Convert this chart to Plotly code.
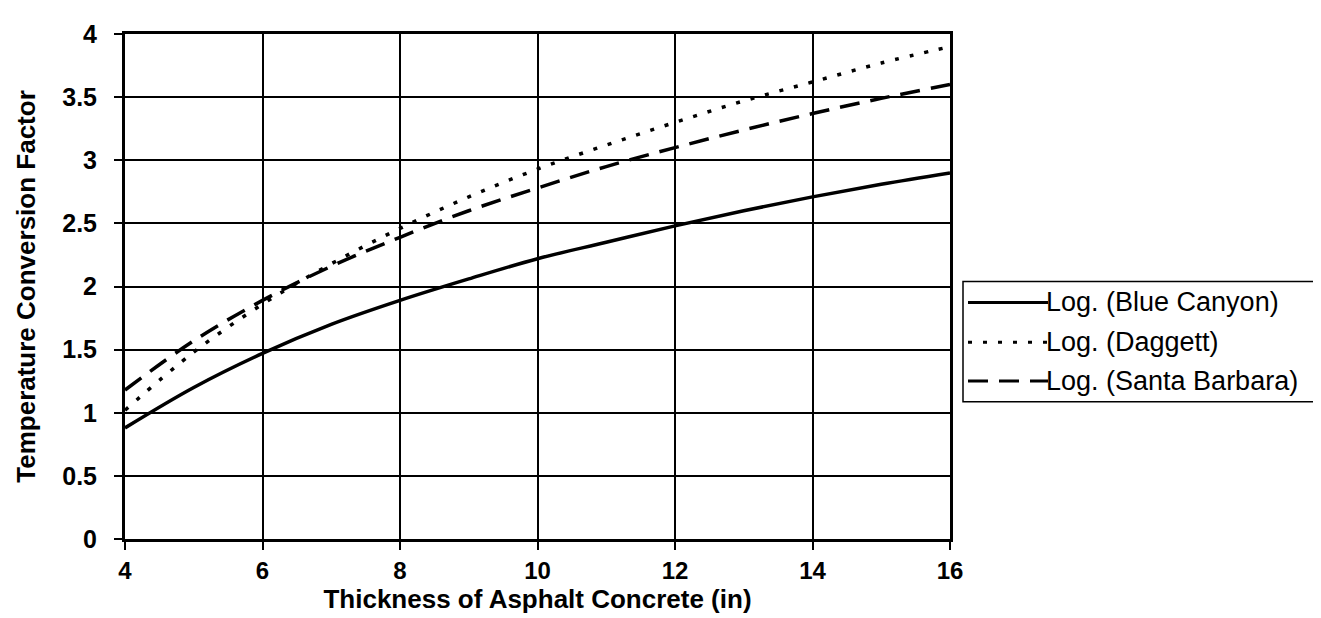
import plotly.graph_objects as go

# thickness of asphalt concrete (in)
thickness = [4, 5, 6, 7, 8, 9, 10, 11, 12, 13, 14, 15, 16]

# values
blue_canyon = [0.88, 1.20, 1.47, 1.70, 1.89, 2.06, 2.22, 2.35, 2.48, 2.60, 2.71, 2.81, 2.90]
daggett = [1.02, 1.48, 1.86, 2.18, 2.46, 2.71, 2.93, 3.12, 3.30, 3.47, 3.62, 3.77, 3.90]
santa_barbara = [1.18, 1.57, 1.89, 2.16, 2.39, 2.60, 2.78, 2.95, 3.10, 3.24, 3.37, 3.49, 3.60]

series_names = ["Log. (Blue Canyon)", "Log. (Daggett)", "Log. (Santa Barbara)"]
dash_styles = ["solid", "4px,11px", "20px,11px"]

x_ticks = [4, 6, 8, 10, 12, 14, 16]
y_ticks = [0, 0.5, 1, 1.5, 2, 2.5, 3, 3.5, 4]
y_ticklabels = ["0", "0.5", "1", "1.5", "2", "2.5", "3", "3.5", "4"]

FONT = "Liberation Sans, Arial, sans-serif"
W, H = 1321, 618
L, R, T, B = 117, 379, 23, 87


# pixel -> paper helpers for the hand-drawn legend box
def px(x):
    return (x - L) / (W - L - R)


def py(y):
    return (H - B - y) / (H - T - B)


fig = go.Figure()
for name, ys, dash in zip(series_names, [blue_canyon, daggett, santa_barbara], dash_styles):
    fig.add_trace(go.Scatter(x=thickness, y=ys, name=name, mode="lines",
                             line=dict(color="black", width=3.5, dash=dash, shape="spline"),
                             showlegend=False))

# legend drawn like the Excel one (long line samples)
fig.add_shape(type="rect", xref="paper", yref="paper",
              x0=px(955), x1=px(1312), y0=py(393), y1=py(272),
              line=dict(color="black", width=1.5), fillcolor="white")
rows = [293, 333, 372]
for name, dash, row in zip(series_names, dash_styles, rows):
    fig.add_shape(type="line", xref="paper", yref="paper",
                  x0=px(960), x1=px(1040), y0=py(row), y1=py(row),
                  line=dict(color="black", width=3, dash=dash))
    fig.add_annotation(text=name, xref="paper", yref="paper",
                       x=px(1036), y=py(row), xanchor="left", yanchor="middle",
                       showarrow=False, font=dict(size=27, family=FONT, color="black"))

fig.update_layout(
    width=W, height=H,
    margin=dict(l=L, r=R, t=T, b=B),
    plot_bgcolor="white", paper_bgcolor="white",
    font=dict(family=FONT, color="black"),
    showlegend=False,
)

fig.update_xaxes(
    range=[4, 16], tickvals=x_ticks,
    showgrid=True, gridcolor="black", gridwidth=2,
    showline=True, linecolor="black", linewidth=3, mirror=True,
    ticks="outside", ticklen=8, tickwidth=2, tickcolor="black",
    tickfont=dict(size=24, family=FONT, weight="bold"),
    zeroline=False,
    title=dict(text="Thickness of Asphalt Concrete (in)", standoff=2,
               font=dict(size=26, family=FONT, weight="bold")),
)
fig.update_yaxes(
    range=[0, 4], tickvals=y_ticks, ticktext=y_ticklabels,
    showgrid=True, gridcolor="black", gridwidth=2,
    showline=True, linecolor="black", linewidth=3, mirror=True,
    ticks="outside", ticklen=8, tickwidth=2, tickcolor="black",
    tickfont=dict(size=25, family=FONT, weight="bold"),
    ticklabelstandoff=12,
    zeroline=False,
    title=dict(text="Temperature Conversion Factor", standoff=20,
               font=dict(size=26, family=FONT, weight="bold")),
)

fig.write_html("out.html")
